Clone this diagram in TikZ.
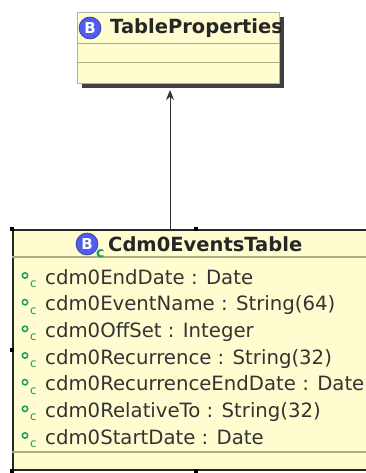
\documentclass[tikz,border=0pt]{standalone}
\usepackage{fontspec}
\setmainfont{DejaVu Sans}
\usetikzlibrary{positioning,shapes,arrows,arrows.meta,shadows,calc}
\definecolor{umlfill}{RGB}{255,252,208}
\definecolor{umlline}{RGB}{176,172,128}
\definecolor{iconblue}{RGB}{80,92,236}
\definecolor{visgreen}{RGB}{24,158,96}
\tikzstyle{cls}=[%
      rectangle, draw=gray!60, line width=1pt, fill=umlfill, inner sep=0pt,
      drop shadow={shadow xshift=4pt, shadow yshift=-5pt, fill=black!75, opacity=1}
]
\tikzstyle{selcls}=[%
      rectangle, draw=black!85, line width=2pt, fill=umlfill, inner sep=0pt
]
\tikzstyle{icon}=[%
      circle, fill=iconblue, draw=iconblue!60!black, line width=0.6pt, minimum size=22pt, inner sep=0pt,
      text=white, font=\fontsize{15}{15}\selectfont\bfseries
]
\tikzstyle{hdr}=[%
      anchor=west, inner sep=0pt, font=\fontsize{19.5}{20}\selectfont\bfseries, text=black!85
]
\tikzstyle{attr}=[%
      anchor=base west, inner sep=0pt, font=\fontsize{19.7}{20}\selectfont, text=black!80
]
\tikzstyle{visc}=[%
      anchor=base west, inner sep=0pt, text=visgreen, font=\fontsize{12}{12}\selectfont
]
\tikzstyle{handle}=[%
      rectangle, fill=black, minimum size=4pt, inner sep=0pt
]
\newcommand{\attr}[3]{%
  \node[attr] (#1) at (45,#2) {#3};
  \draw[visgreen, line width=1.5pt] ([xshift=-20pt,yshift=8.5pt]#1.base west) circle (2.7pt);
  \node[visc] at ([xshift=-15pt,yshift=-3.5pt]#1.base west) {c};
}

\begin{document}
\begin{tikzpicture}[x=1pt, y=-1pt, >={Stealth[length=10pt,width=8pt]}]
    \useasboundingbox (0,0) rectangle (366,473);
    \clip (0,0) rectangle (366,473);

    % TableProperties
    \node[cls, anchor=north west, minimum width=202pt, minimum height=71pt] (props) at (77,12) {};
    \draw[umlline] (props.west |- 0,43) -- (props.east |- 0,43);
    \draw[umlline] (props.west |- 0,62) -- (props.east |- 0,62);
    \begin{scope}
      \clip (props.north west) rectangle (props.south east);
      \node[icon] (propsicon) at (90,28) {B};
      \node[hdr] (propsname) at (110,28) {TableProperties};
    \end{scope}

    % Cdm0EventsTable
    \node[selcls, anchor=north west, minimum width=366pt, minimum height=240pt] (events) at (12,229) {};
    \draw[umlline, line width=1.2pt] (events.west |- 0,257) -- (events.east |- 0,257);
    \draw[umlline, line width=1.2pt] (events.west |- 0,452) -- (events.east |- 0,452);
    \node[icon] (evicon) at (87,244) {B};
    \node[visc, font=\fontsize{14}{14}\selectfont\bfseries] at (96,257) {c};
    \node[hdr] (evname) at (108,244) {Cdm0EventsTable};

    \attr{enddate}{284}{cdm0EndDate : Date}
    \attr{eventname}{310.7}{cdm0EventName : String(64)}
    \attr{offset}{337.3}{cdm0OffSet : Integer}
    \attr{recurrence}{364}{cdm0Recurrence : String(32)}
    \attr{recurend}{390.7}{cdm0RecurrenceEndDate : Date}
    \attr{relative}{417.3}{cdm0RelativeTo : String(32)}
    \attr{startdate}{444}{cdm0StartDate : Date}

    \node[handle] (h1) at (events.north west) {};
    \node[handle] (h2) at (events.north) {};
    \node[handle] (h3) at (events.west) {};
    \node[handle] (h4) at (events.south west) {};
    \node[handle] (h5) at (events.south) {};

    % generalization
    \coordinate (from) at (170,229);
    \draw[->, black!80, line width=1pt] (from) -- ([yshift=-6pt]from |- props.south);

  \end{tikzpicture}
\end{document}
